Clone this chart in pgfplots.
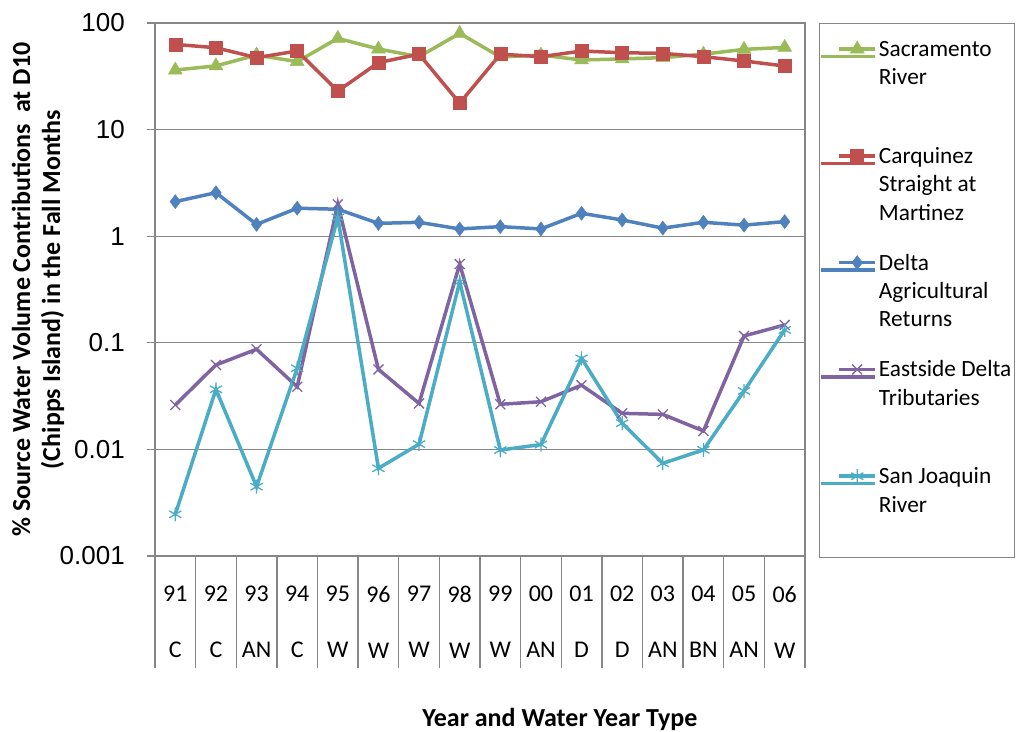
\documentclass[border=0pt]{standalone}
\usepackage{pgfplots}
\pgfplotsset{compat=1.18}
\usepackage{fontspec}
\setmainfont{Carlito}
\newfontfamily\arialf{Liberation Sans}

\definecolor{sacgreen}{HTML}{9BBB59}
\definecolor{carqred}{HTML}{C0504D}
\definecolor{deltablue}{HTML}{4F81BD}
\definecolor{eastpurple}{HTML}{8064A2}
\definecolor{sjcyan}{HTML}{4BACC6}
\definecolor{axgray}{HTML}{868686}

% legend cell: text top aligned in a fixed-height slot
\newcommand{\legcell}[1]{\parbox[t]{136bp}{#1}}

\begin{document}
\begin{tikzpicture}
\useasboundingbox (0,0) rectangle (1017bp,732bp);
\begin{axis}[
    at={(155bp,176bp)}, anchor=south west,
    scale only axis,
    width=650bp, height=533bp,
    ymode=log,
    ymin=0.001, ymax=100,
    xmin=-0.5, xmax=15.5,
    ytick={0.001,0.01,0.1,1,10,100},
    yticklabels={0.001,0.01,0.1,1,10,100},
    yminorticks=false,
    ymajorgrids,
    grid style={axgray, line width=1.3bp},
    axis line style={axgray, line width=1.3bp},
    tick pos=left,
    tick align=outside,
    major tick length=8bp,
    tick style={axgray, line width=1.3bp},
    xtick={0,...,15},
    xticklabels={{91\\C},{92\\C},{93\\AN},{94\\C},{95\\W},{96\\W},{97\\W},{98\\W},
                 {99\\W},{00\\AN},{01\\D},{02\\D},{03\\AN},{04\\BN},{05\\AN},{06\\W}},
    xtick style={draw=none},
    xticklabel style={align=center, anchor=north, inner sep=0pt, yshift=-22bp,
        font=\fontsize{24bp}{56bp}\selectfont},
    extra x ticks={-0.5,0.5,...,15.5},
    extra x tick labels={},
    extra x tick style={major tick length=112bp, tick pos=left,
        xtick style={draw=axgray, line width=1.3bp}},
    yticklabel style={font=\arialf\fontsize{26bp}{30bp}\selectfont, inner sep=0pt, xshift=-22bp},
    ylabel={\% Source Water Volume Contributions \ at D10\\(Chipps Island) in the Fall Months},
    ylabel style={font=\bfseries\fontsize{26bp}{30bp}\selectfont, align=center,
        at={(axis description cs:-0.18,0.5)}, anchor=center},
    xlabel={Year and Water Year Type},
    xlabel style={font=\bfseries\fontsize{26bp}{30bp}\selectfont,
        at={(axis description cs:0.623,-0.306)}, anchor=center},
    legend style={at={(axis description cs:1.0215,1)}, anchor=north west,
        draw=axgray, line width=1bp, inner sep=0pt, row sep=0pt, column sep=2bp,
        nodes={inner sep=0pt, text height=33bp, text depth=73.8bp, anchor=base west},
        font=\fontsize{23.3bp}{28.4bp}\selectfont},
    legend cell align=left,
    legend image code/.code={
        \path (0bp,0bp) -- (54bp,0bp);
        \draw[#1, mark repeat=2, mark phase=2]
            plot coordinates {(18bp,7.5bp) (36bp,7.5bp) (54bp,7.5bp)};
    },
    every axis plot/.append style={line width=3.5bp},
]
\addplot[sacgreen, mark=triangle*, mark size=8bp, mark options={solid, line width=0.5bp}] coordinates {
(0,36.2) (1,39.6) (2,50) (3,43.4) (4,71.8) (5,57) (6,48.3) (7,80)
(8,48) (9,50) (10,45) (11,46) (12,47.3) (13,51) (14,56.6) (15,59)};
\addlegendentry{\legcell{Sacramento\\River}}

\addplot[carqred, mark=square*, mark size=6.5bp, mark options={solid, line width=0.5bp}] coordinates {
(0,63) (1,58.6) (2,47.3) (3,54.6) (4,23) (5,42.5) (6,51) (7,17.7)
(8,51) (9,48.3) (10,54.6) (11,52.6) (12,51.9) (13,48.3) (14,44) (15,39.5)};
\addlegendentry{\legcell{Carquinez\\Straight at\\Martinez}}

\addplot[deltablue, mark=diamond*, mark size=7bp, mark options={solid, line width=0.5bp}] coordinates {
(0,2.11) (1,2.56) (2,1.29) (3,1.83) (4,1.79) (5,1.32) (6,1.35) (7,1.17)
(8,1.23) (9,1.17) (10,1.64) (11,1.42) (12,1.19) (13,1.35) (14,1.27) (15,1.37)};
\addlegendentry{\legcell{Delta\\Agricultural\\Returns}}

\addplot[eastpurple, mark=x, mark size=7bp, mark options={solid, line width=1.3bp}] coordinates {
(0,0.0261) (1,0.062) (2,0.087) (3,0.0387) (4,1.99) (5,0.0563) (6,0.027) (7,0.548)
(8,0.0265) (9,0.028) (10,0.040) (11,0.0218) (12,0.0213) (13,0.0149) (14,0.116) (15,0.147)};
\addlegendentry{\legcell{Eastside Delta\\Tributaries}}

\addplot[sjcyan, mark=asterisk, mark size=7bp, mark options={solid, line width=1.3bp}] coordinates {
(0,0.00246) (1,0.0366) (2,0.00447) (3,0.0577) (4,1.5) (5,0.00665) (6,0.0112) (7,0.374)
(8,0.00986) (9,0.0111) (10,0.0715) (11,0.0176) (12,0.0074) (13,0.0099) (14,0.0353) (15,0.132)};
\addlegendentry{\legcell{San Joaquin\\River}}
\end{axis}
\end{tikzpicture}
\end{document}
